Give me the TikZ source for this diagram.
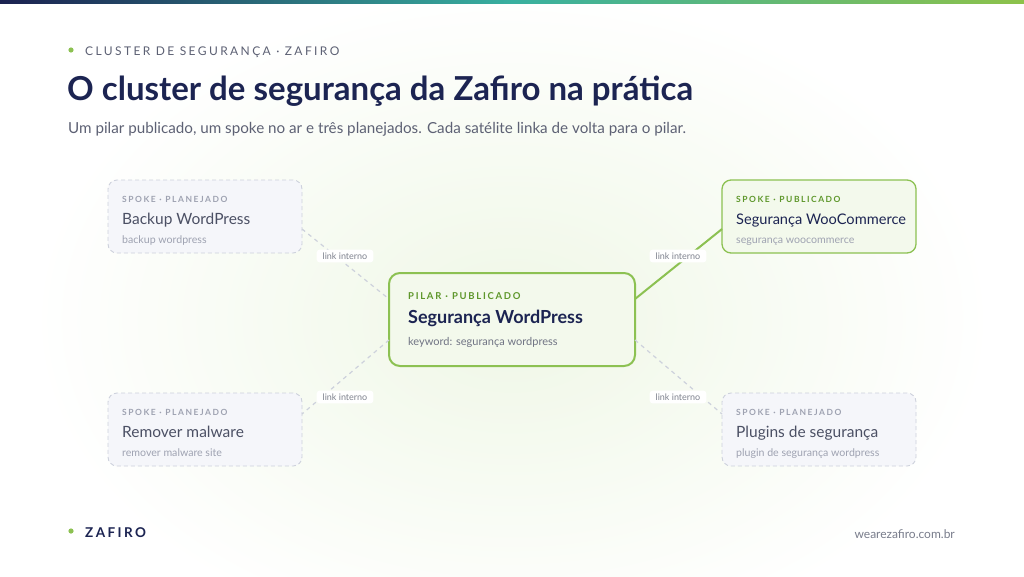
\documentclass[tikz,border=0pt]{standalone}
\usepackage{fontspec}
\setmainfont{Lato}
\newfontfamily\spaced[LetterSpace=20]{Lato}
\newfontfamily\spacedb[LetterSpace=18]{Lato Bold}
\definecolor{navy}{HTML}{1C2452}
\definecolor{leaf}{HTML}{8CC152}
\definecolor{leafdark}{HTML}{5E972B}
\definecolor{ink}{HTML}{4B5064}
\definecolor{mute}{HTML}{9EA2B1}
\definecolor{hair}{HTML}{CDD1DC}
\definecolor{mist}{HTML}{F5F6FA}
\definecolor{pale}{HTML}{F3F9EC}
\definecolor{topa}{HTML}{1B2150}
\definecolor{topb}{HTML}{38B0A0}
\definecolor{topc}{HTML}{8DC24A}

\begin{document}
\begin{tikzpicture}[x=1pt,y=-1pt,
  planned/.style={draw=hair, dashed, dash pattern=on 4pt off 3pt, fill=mist, rounded corners=9pt, line width=0.9pt, minimum width=194pt, minimum height=73pt},
  live/.style={draw=leaf, fill=pale, rounded corners=9pt, line width=1.3pt, minimum width=194pt, minimum height=73pt},
  pillar/.style={draw=leaf, fill=pale, rounded corners=11pt, line width=2pt, minimum width=246pt, minimum height=93pt},
  tag/.style={anchor=base west, inner sep=0pt, font=\fontsize{8.5}{10}\spacedb},
  head/.style={anchor=base west, inner sep=0pt, text=ink, font=\fontsize{15.5}{18}\selectfont},
  kw/.style={anchor=base west, inner sep=0pt, text=mute, font=\fontsize{10.6}{12}\selectfont},
  link/.style={draw=hair, dashed, dash pattern=on 4pt off 4pt, line width=1.2pt},
  golink/.style={draw=leaf, line width=2pt},
  linktag/.style={fill=white, rounded corners=3pt, text=mute!80!black, inner xsep=6pt, inner ysep=3pt, font=\fontsize{9}{11}\selectfont}
]
\useasboundingbox (0,0) rectangle (1024,576);
\fill[white] (0,0) rectangle (1024,576);
% glow
\shade[inner color={rgb,255:red,239;green,247;blue,230}, outer color=white] (512,320) ellipse (480 and 330);
% top bar
\shade[left color=topa, right color=topb] (0,0) rectangle (512,3);
\shade[left color=topb, right color=topc] (512,0) rectangle (1024,3);

% header
\fill[leaf] (71,50) circle (2.6);
\node[anchor=base west, inner sep=0pt, text=ink!90, font=\fontsize{12}{14}\spaced] (kicker) at (85,55) {CLUSTER DE SEGURANÇA · ZAFIRO};
\node[anchor=base west, inner sep=0pt, text=navy, font=\fontsize{33}{38}\bfseries] (title) at (67,100) {O cluster de segurança da Zafiro na prática};
\node[anchor=base west, inner sep=0pt, text=ink!90, font=\fontsize{15.2}{18}\selectfont] (lead) at (68,133) {Um pilar publicado, um spoke no ar e três planejados. Cada satélite linka de volta para o pilar.};

% boxes
\node[planned] (backup) at (205,216.5) {};
\node[live] (woo) at (819,216.5) {};
\node[pillar] (pilar) at (512,319.5) {};
\node[planned] (malware) at (205,429.5) {};
\node[planned] (plugins) at (819,429.5) {};

% connectors
\coordinate (bkA) at (302,229);
\coordinate (piA) at (389,299);
\coordinate (piB) at (635,299);
\coordinate (woA) at (722,229);
\coordinate (piC) at (389,340);
\coordinate (mwA) at (302,414);
\coordinate (piD) at (635,340);
\coordinate (plA) at (722,414);
\draw[link] (bkA) -- (piA);
\draw[link] (piC) -- (mwA);
\draw[link] (piD) -- (plA);
\draw[golink] (piB) -- (woA);
\node[linktag] (l1) at (345,256) {link interno};
\node[linktag] (l2) at (678,256) {link interno};
\node[linktag] (l3) at (345,397) {link interno};
\node[linktag] (l4) at (678,397) {link interno};

% box texts
\node[tag, text=mute] at (122,202) {SPOKE · PLANEJADO};
\node[head] at (122,224) {Backup WordPress};
\node[kw] at (122,243) {backup wordpress};

\node[tag, text=leafdark] at (736,202) {SPOKE · PUBLICADO};
\node[head, text=navy, font=\fontsize{14.6}{17}\selectfont] at (736,224) {Segurança WooCommerce};
\node[kw] at (736,243) {segurança woocommerce};

\node[tag, text=leafdark, font=\fontsize{9.5}{11}\spacedb] at (408,299) {PILAR · PUBLICADO};
\node[head, text=navy, font=\fontsize{18}{21}\bfseries] at (408,323) {Segurança WordPress};
\node[kw, text=ink!80, font=\fontsize{11}{13}\selectfont] at (408,345) {keyword: segurança wordpress};

\node[tag, text=mute] at (122,415) {SPOKE · PLANEJADO};
\node[head] at (122,437) {Remover malware};
\node[kw] at (122,456) {remover malware site};

\node[tag, text=mute] at (736,415) {SPOKE · PLANEJADO};
\node[head] at (736,437) {Plugins de segurança};
\node[kw] at (736,456) {plugin de segurança wordpress};

% footer
\fill[leaf] (71,531) circle (2.6);
\node[anchor=base west, inner sep=0pt, text=navy, font=\fontsize{13.5}{15}\spacedb] (brand) at (85,537) {ZAFIRO};
\node[anchor=base east, inner sep=0pt, text=ink!75, font=\fontsize{12}{14}\selectfont] (site) at (955,538) {wearezafiro.com.br};
\end{tikzpicture}
\end{document}
